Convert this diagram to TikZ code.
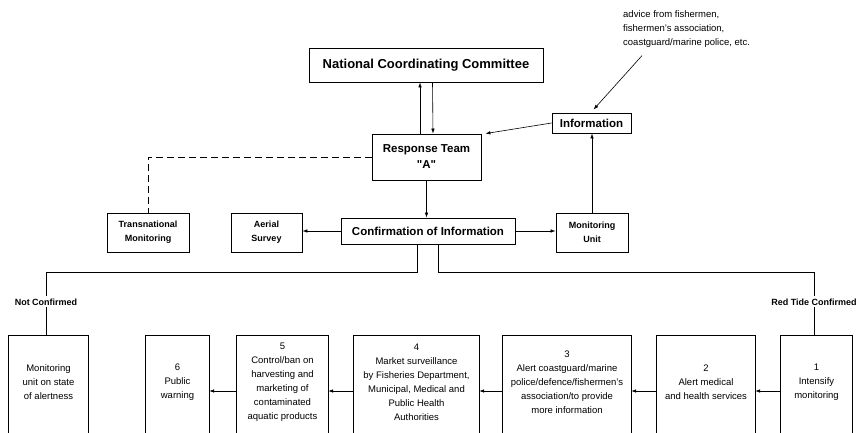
\documentclass[tikz,border=0pt]{standalone}
\usepackage{fontspec}
\setmainfont{Liberation Sans}
\usetikzlibrary{positioning, arrows.meta}

\begin{document}
\begin{tikzpicture}[x=1pt, y=1pt, >={Latex[length=5pt,width=3.5pt]},
  box/.style={draw, line width=0.8pt, inner sep=0pt, align=center, font=\bfseries\fontsize{11.5}{14}\selectfont},
  smallbox/.style={box, font=\bfseries\fontsize{9}{14}\selectfont},
  stage/.style={inner sep=0pt, minimum height=92pt, align=center, font=\fontsize{9.5}{14}\selectfont},
  frame/.style={line width=0.8pt},
  link/.style={->, line width=0.6pt},
  tag/.style={inner sep=2pt, font=\bfseries\fontsize{9}{11}\selectfont}]

\useasboundingbox (0,0) rectangle (860,433);
\coordinate (bot) at (0,0);

% top of the chart
\node[box, minimum width=234pt, minimum height=34pt, font=\bfseries\fontsize{13}{16}\selectfont] (ncc) at (426,368) {National Coordinating Committee};
\node[box, minimum width=109pt, minimum height=46pt, font=\bfseries\fontsize{11.5}{16}\selectfont] (rt) at (426.5,276) {Response Team\\\textquotedbl A\textquotedbl};
\node[box, minimum width=79pt, minimum height=20pt] (info) at (591.5,310) {Information};
\node[anchor=west, align=left, inner sep=0pt, font=\fontsize{9.5}{14}\selectfont] (adv) at (623,404) {advice from fishermen,\\fishermen's association,\\coastguard/marine police, etc.};

\node[box, minimum width=174pt, minimum height=26pt] (conf) at (428,202) {Confirmation of Information};
\node[smallbox, minimum width=72pt, minimum height=39pt] (mon) at (592,200.5) {Monitoring\\Unit};
\node[smallbox, minimum width=71pt, minimum height=39pt] (aer) at (266.5,200.5) {Aerial\\Survey};
\node[smallbox, minimum width=82pt, minimum height=39pt] (trans) at (148,200.5) {Transnational\\Monitoring};

\draw[link] ([xshift=-6.5pt]rt.north) -- ([xshift=-6pt]ncc.south);
\draw[link] ([xshift=6.5pt]ncc.south) -- ([xshift=6.5pt]rt.north);
\draw[link] (info.west) -- ([xshift=4pt]rt.north east);
\draw[link] ([shift={(19pt,-8pt)}]adv.south west) -- ([shift={(2pt,3pt)}]info.north);
\draw[link] (mon.north) -- (mon.north |- info.south);
\draw[link] (rt.south) -- (rt.south |- conf.north);
\draw[link] (conf.west) -- (conf.west -| aer.east);
\draw[link] (conf.east) -- (conf.east -| mon.west);
\draw[line width=0.7pt, dash pattern=on 7pt off 4pt] (rt.west) -| (trans.north);

% the two branches
\coordinate (jl) at (417,161);
\coordinate (jr) at (438,161);
\node[tag] (nc) at (46,131) {Not Confirmed};
\node[tag] (rc) at (814,131) {Red Tide Confirmed};

% bottom row
\node[stage, minimum width=79pt] (s0) at (48.5,51) {Monitoring\\unit on state\\of alertness};
\node[stage, minimum width=63pt] (s6) at (177.5,51) {6\\Public\\warning};
\node[stage, minimum width=91pt] (s5) at (282.5,51) {5\\Control/ban on\\harvesting and\\marketing of\\contaminated\\aquatic products};
\node[stage, minimum width=125pt] (s4) at (416.5,51) {4\\Market surveillance\\by Fisheries Department,\\Municipal, Medical and\\Public Health\\Authorities};
\node[stage, minimum width=128pt] (s3) at (567,51) {3\\Alert coastguard/marine\\police/defence/fishermen's\\association/to provide\\more information};
\node[stage, minimum width=98pt] (s2) at (706,51) {2\\Alert medical\\and health services};
\node[stage, minimum width=71pt] (s1) at (816.5,51) {1\\Intensify\\monitoring};

\draw[line width=0.7pt] (jl |- conf.south) -- (jl) -| (nc.north);
\draw[line width=0.7pt] (nc.south) -- (nc.south |- s0.north);
\draw[line width=0.7pt] (jr |- conf.south) -- (jr) -| (rc.north);
\draw[line width=0.7pt] (rc.south) -- (rc.south |- s1.north);

% open frames, cut off by the page edge
\draw[frame] (s0.north west |- bot) |- (s0.north east) -- (s0.north east |- bot);
\draw[frame] (s6.north west |- bot) |- (s6.north east) -- (s6.north east |- bot);
\draw[frame] (s5.north west |- bot) |- (s5.north east) -- (s5.north east |- bot);
\draw[frame] (s4.north west |- bot) |- (s4.north east) -- (s4.north east |- bot);
\draw[frame] (s3.north west |- bot) |- (s3.north east) -- (s3.north east |- bot);
\draw[frame] (s2.north west |- bot) |- (s2.north east) -- (s2.north east |- bot);
\draw[frame] (s1.north west |- bot) |- (s1.north east) -- (s1.north east |- bot);

\draw[link] ([yshift=-9pt]s1.west) -- ([yshift=-9pt]s2.east);
\draw[link] ([yshift=-9pt]s2.west) -- ([yshift=-9pt]s3.east);
\draw[link] ([yshift=-9pt]s3.west) -- ([yshift=-9pt]s4.east);
\draw[link] ([yshift=-9pt]s4.west) -- ([yshift=-9pt]s5.east);
\draw[link] ([yshift=-9pt]s5.west) -- ([yshift=-9pt]s6.east);

\end{tikzpicture}
\end{document}
